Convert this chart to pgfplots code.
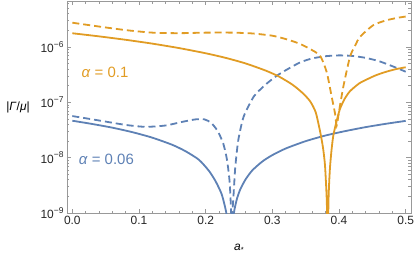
\documentclass[border=0pt]{standalone}
\usepackage{pgfplots}
\pgfplotsset{compat=1.18}
\usepackage{fontspec}
\setmainfont{Liberation Sans}
\definecolor{morange}{rgb}{0.880722,0.611041,0.142051}
\definecolor{mblue}{rgb}{0.368417,0.506779,0.709798}
\definecolor{mframe}{gray}{0.6}
\newcommand{\tp}[1]{10\raisebox{0.8ex}{\fontsize{8.5}{8.5}\selectfont −#1}}
\begin{document}
\begin{tikzpicture}
\begin{axis}[name=ax, ymode=log, scale only axis, width=344bp, height=212bp,
  xmin=-0.008, xmax=0.508, ymin=1e-9, ymax=6.7e-6,
  xtick={0,0.1,0.2,0.3,0.4,0.5}, xticklabels={0.0,0.1,0.2,0.3,0.4,0.5},
  minor xtick={0.02,0.04,0.06,0.08,0.12,0.14,0.16,0.18,0.22,0.24,0.26,0.28,0.32,0.34,0.36,0.38,0.42,0.44,0.46,0.48},
  ytick={1e-9,1e-8,1e-7,1e-6}, yticklabels={\tp{9},\tp{8},\tp{7},\tp{6}},
  minor ytick={2e-9,3e-9,4e-9,5e-9,6e-9,7e-9,8e-9,9e-9,2e-8,3e-8,4e-8,5e-8,6e-8,7e-8,8e-8,9e-8,2e-7,3e-7,4e-7,5e-7,6e-7,7e-7,8e-7,9e-7,2e-6,3e-6,4e-6,5e-6,6e-6},
  tick align=inside, axis line style={mframe}, every tick/.style={mframe},
  major tick length=4.5bp, minor tick length=2.5bp,
  tick label style={font=\fontsize{12}{13}\selectfont, color=black!85},
  every axis x label/.style={at={(rel axis cs:0.5,0)}, anchor=center, yshift=-35bp},
  every axis y label/.style={at={(rel axis cs:0,0.5)}, anchor=center, xshift=-49bp},
  xlabel={\fontsize{12}{13}\selectfont\textit{a}\raisebox{-0.35ex}{\fontsize{7.5}{7.5}\selectfont *}},
  ylabel={\fontsize{12}{13}\selectfont |\textit{Γ}/\textit{μ}|},
  every axis plot/.append style={line width=1.8bp, smooth, tension=0.4},
  clip=true]
% alpha = 0.06 solid
\addplot[mblue] coordinates {
(0,4.63e-8) (0.03,4.04e-8) (0.06,3.47e-8) (0.09,2.88e-8) (0.12,2.29e-8)
(0.15,1.70e-8) (0.17,1.30e-8) (0.19,9.12e-9) (0.205,5.75e-9) (0.215,3.72e-9)
(0.224,2.19e-9) (0.230,1.15e-9) (0.233,6.76e-10) (0.2355,2.0e-10) (0.2365,3e-11)
(0.2375,1.26e-10) (0.238,2.63e-10) (0.240,6.17e-10) (0.243,1.12e-9) (0.247,1.82e-9)
(0.252,2.69e-9) (0.26,4.07e-9) (0.27,5.89e-9) (0.285,8.51e-9) (0.30,1.109e-8)
(0.32,1.459e-8) (0.35,1.982e-8) (0.38,2.51e-8) (0.41,3.02e-8) (0.44,3.55e-8)
(0.47,4.07e-8) (0.5,4.60e-8)};
% alpha = 0.06 dashed
\addplot[mblue, dash pattern=on 7bp off 4bp] coordinates {
(0,5.62e-8) (0.04,4.68e-8) (0.08,3.89e-8) (0.11,3.59e-8) (0.14,3.80e-8)
(0.165,4.42e-8) (0.185,4.90e-8) (0.198,4.90e-8) (0.208,4.27e-8) (0.218,3.02e-8)
(0.2265,1.778e-8) (0.232,9.12e-9) (0.236,3.55e-9) (0.2385,7.94e-10) (0.2392,1e-10)
(0.2398,7.94e-10) (0.242,2.29e-9) (0.2445,6.92e-9) (0.249,2.09e-8) (0.257,5.50e-8)
(0.272,1.259e-7) (0.282,1.698e-7) (0.292,2.19e-7) (0.307,3.02e-7) (0.322,3.89e-7)
(0.342,5.25e-7) (0.36,6.17e-7) (0.38,6.76e-7) (0.40,7.00e-7) (0.42,6.84e-7)
(0.44,6.31e-7) (0.46,5.50e-7) (0.48,4.47e-7) (0.5,3.55e-7)};
% alpha = 0.1 solid
\addplot[morange] coordinates {
(0,1.754e-6) (0.04,1.542e-6) (0.08,1.337e-6) (0.12,1.140e-6) (0.16,9.48e-7)
(0.2,7.64e-7) (0.23,6.31e-7) (0.26,5.00e-7) (0.29,3.72e-7) (0.31,2.90e-7)
(0.33,2.08e-7) (0.345,1.479e-7) (0.3565,1.047e-7) (0.365,6.61e-8) (0.3715,3.02e-8)
(0.376,1.514e-8) (0.379,7.24e-9) (0.3815,1.905e-9) (0.3825,5.0e-10) (0.383,3.2e-11)
(0.3832,3.2e-11) (0.3840,1.12e-9) (0.3850,3.02e-9) (0.3866,6.92e-9) (0.389,1.445e-8)
(0.3915,2.51e-8) (0.396,4.37e-8) (0.4015,7.59e-8) (0.4085,1.148e-7) (0.4165,1.58e-7)
(0.43,2.17e-7) (0.4416,2.57e-7) (0.455,3.05e-7) (0.47,3.52e-7) (0.485,3.94e-7)
(0.5,4.27e-7)};
% alpha = 0.1 dashed
\addplot[morange, dash pattern=on 7bp off 4bp] coordinates {
(0,2.72e-6) (0.04,2.32e-6) (0.08,2.00e-6) (0.12,1.80e-6) (0.16,1.76e-6)
(0.2,1.80e-6) (0.24,1.80e-6) (0.27,1.74e-6) (0.30,1.585e-6) (0.32,1.38e-6)
(0.34,1.148e-6) (0.355,9.33e-7) (0.3715,6.92e-7) (0.3816,3.47e-7) (0.389,1.259e-7)
(0.394,6.31e-8) (0.3965,3.80e-8) (0.4,6.76e-8) (0.4065,1.905e-7) (0.4165,6.61e-7)
(0.425,1.096e-6) (0.4315,1.514e-6) (0.4515,2.455e-6) (0.4716,3.02e-6) (0.4915,3.39e-6)
(0.5,3.51e-6)};
\node[morange, font=\fontsize{15}{18}\selectfont] at (axis cs:0.049,3.5e-7) {\textit{α} = 0.1};
\node[mblue, font=\fontsize{15}{18}\selectfont] at (axis cs:0.051,9.4e-9) {\textit{α} = 0.06};
\end{axis}
\pgfresetboundingbox
\path[use as bounding box] ([xshift=-67bp,yshift=-43bp]ax.south west) rectangle ([xshift=4bp,yshift=1bp]ax.north east);
\end{tikzpicture}
\end{document}
